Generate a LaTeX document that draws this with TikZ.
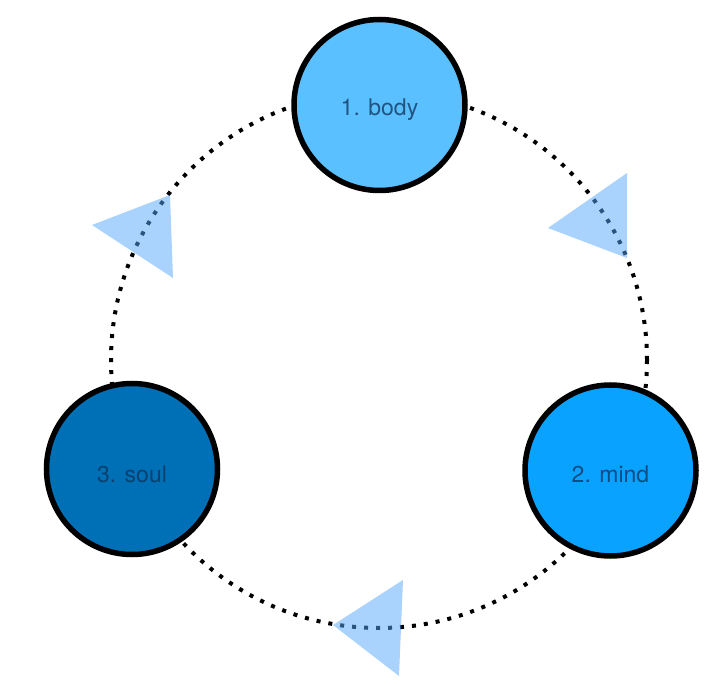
\documentclass[tikz,border=0pt]{standalone}
\usepackage{fontspec}
\setmainfont{TeX Gyre Heros}
\definecolor{bodyc}{RGB}{90,192,255}
\definecolor{mindc}{RGB}{10,162,255}
\definecolor{soulc}{RGB}{0,112,182}
\definecolor{txtc}{RGB}{16,48,88}
\definecolor{tric}{RGB}{84,166,250}
\begin{document}
\begin{tikzpicture}[x=1pt,y=-1pt,
  stage/.style={circle,draw=black,line width=5.5pt,minimum size=171pt,inner sep=0pt,
    text=txtc,text opacity=0.75,font=\fontsize{23}{27}\selectfont},
  ring/.style={line width=4pt,dash pattern=on 4pt off 8pt},
  pointer/.style={fill=tric,fill opacity=0.5,draw=none}]
\useasboundingbox (0,0) rectangle (723,684);
\coordinate (ctr) at (379,360);
\draw[ring] (ctr) circle[radius=268];
\node[stage,fill=bodyc] (body) at (379.5,105) {};
\node[stage,fill=mindc] (mind) at (610.5,470.5) {};
\node[stage,fill=soulc] (soul) at (132,469) {};
\node[stage,draw=none,yshift=-4.5pt] (bodyt) at (body.center) {1. body};
\node[stage,draw=none,yshift=-3.5pt] (mindt) at (mind.center) {2. mind};
\node[stage,draw=none,yshift=-5pt] (soult) at (soul.center) {3. soul};
\fill[pointer] (92,225) -- (170,195) -- (173,278) -- cycle;
\fill[pointer] (548,228) -- (627,173) -- (627,258) -- cycle;
\fill[pointer] (333,625) -- (403,580) -- (399,676) -- cycle;
\end{tikzpicture}
\end{document}
